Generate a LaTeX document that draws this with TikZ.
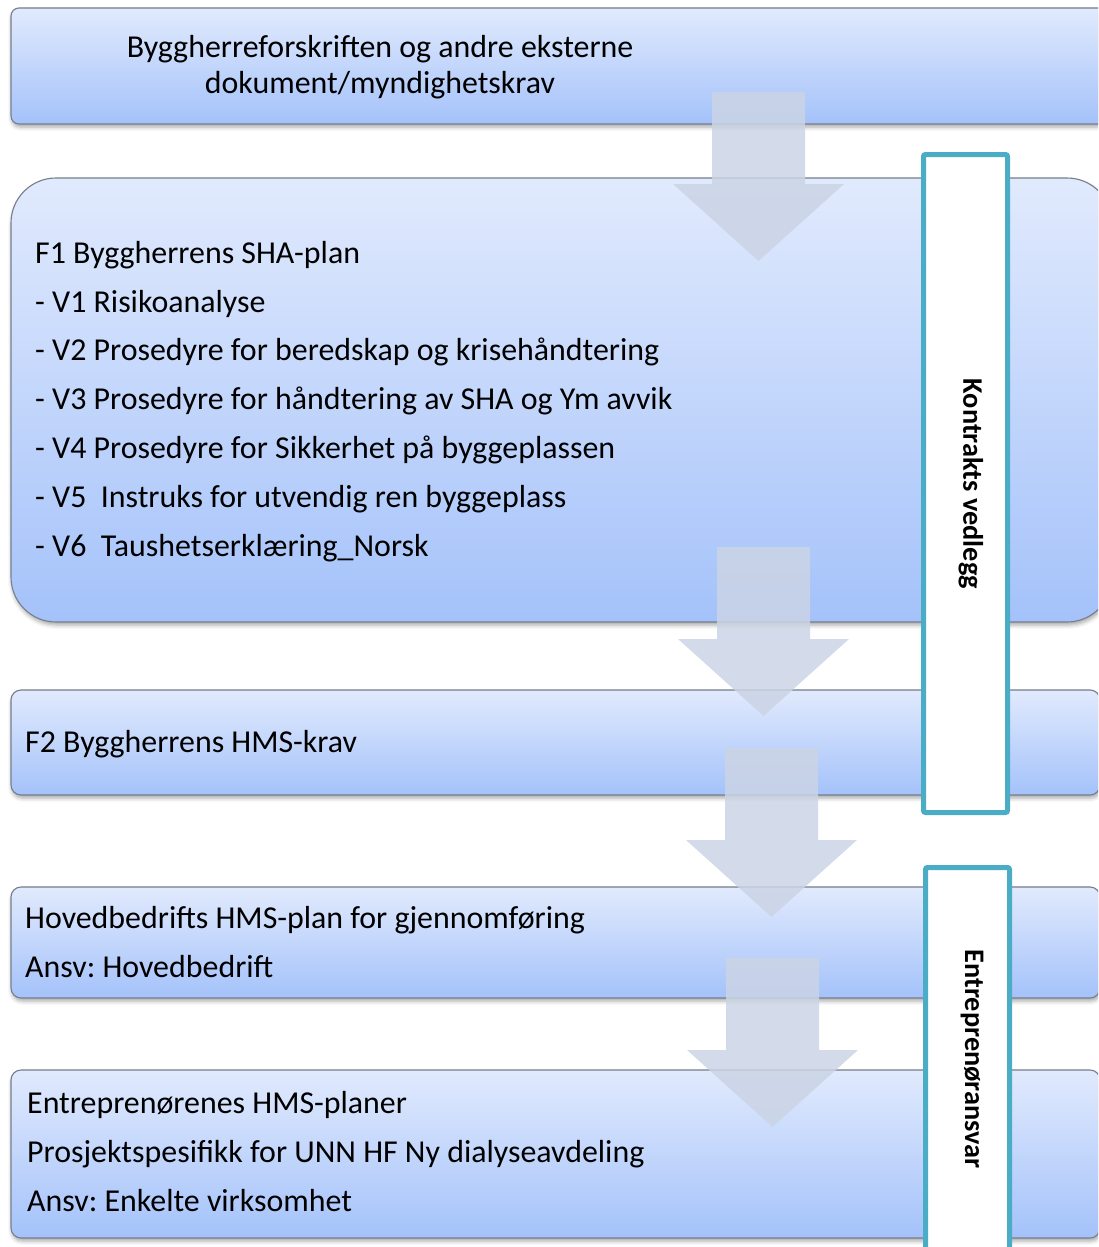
\documentclass[tikz,border=0pt]{standalone}
\usepackage{fontspec}
\setmainfont{Carlito}
\usetikzlibrary{shadows.blur}
\frenchspacing
\definecolor{boxtop}{RGB}{225,234,253}
\definecolor{boxbot}{RGB}{164,194,250}
\definecolor{boxline}{RGB}{118,126,140}
\definecolor{arrowfill}{RGB}{203,212,229}
\definecolor{tealline}{RGB}{75,172,198}
\tikzset{
  flowbox/.style={draw=boxline, line width=1.1pt, top color=boxtop, bottom color=boxbot,
    blur shadow={shadow xshift=1pt, shadow yshift=-3pt, shadow blur radius=4pt, shadow opacity=35}},
  txt/.style={anchor=base west, inner sep=0pt, font=\fontsize{31.9}{49}\selectfont},
  sidebox/.style={draw=tealline, fill=white, line width=5pt, rounded corners=2pt},
  sidetxt/.style={rotate=-90, inner sep=0pt, font=\fontsize{28.3}{32}\selectfont\bfseries},
  blockarrow/.pic={\fill[arrowfill, fill opacity=0.85] (-46.5,0) -- (46.5,0) -- (46.5,92) -- (85.5,92) -- (0,169) -- (-85.5,92) -- (-46.5,92) -- cycle;}
}
\begin{document}
\begin{tikzpicture}[x=1pt,y=-1pt]
\useasboundingbox (0,0) rectangle (1098,1247);
\clip (0,0) rectangle (1098,1247);
% boxes
\path[flowbox, rounded corners=8pt] (11,8) rectangle (1108,124);
\path[flowbox, rounded corners=45pt] (11,178) rectangle (1112,622);
\path[flowbox, rounded corners=10pt] (11,690) rectangle (1100,795);
\path[flowbox, rounded corners=10pt] (11,887) rectangle (1100,998);
\path[flowbox, rounded corners=10pt] (11,1070) rectangle (1100,1238);
% texts
\node[anchor=base, inner sep=0pt, font=\fontsize{31.9}{36}\selectfont] (t1a) at (380,57) {Byggherreforskriften og andre eksterne};
\node[anchor=base, inner sep=0pt, font=\fontsize{31.9}{36}\selectfont] (t1b) at (380,93) {dokument/myndighetskrav};
\node[txt] (t2a) at (35,263) {F1 Byggherrens SHA-plan};
\node[txt] (t2b) at (35,312) {- V1 Risikoanalyse};
\node[txt] (t2c) at (35,360) {- V2 Prosedyre for beredskap og krisehåndtering};
\node[txt] (t2d) at (35,409) {- V3 Prosedyre for håndtering av SHA og Ym avvik};
\node[txt] (t2e) at (35,458) {- V4 Prosedyre for Sikkerhet på byggeplassen};
\node[txt] (t2f) at (35,507) {- V5\ \ Instruks for utvendig ren byggeplass};
\node[txt] (t2g) at (35,556) {- V6\ \ Taushetserklæring\_Norsk};
\node[txt] (t3a) at (25,752) {F2 Byggherrens HMS-krav};
\node[txt] (t4a) at (25,928) {Hovedbedrifts HMS-plan for gjennomføring};
\node[txt] (t4b) at (25,977) {Ansv: Hovedbedrift};
\node[txt] (t5a) at (27,1113) {Entreprenørenes HMS-planer};
\node[txt] (t5b) at (27,1162) {Prosjektspesifikk for UNN HF Ny dialyseavdeling};
\node[txt] (t5c) at (27,1211) {Ansv: Enkelte virksomhet};
% side boxes
\path[sidebox] (923.5,154.5) rectangle (1007.5,812.5);
\node[sidetxt] (s1) at (971,484) {Kontrakts vedlegg};
\path[sidebox] (925.5,867.5) rectangle (1009.5,1270);
\node[sidetxt] (s2) at (972,1059) {Entreprenøransvar};
% block arrows
\pic at (758.5,92) {blockarrow};
\pic at (763.5,547) {blockarrow};
\pic at (771.5,748) {blockarrow};
\pic at (772.5,958) {blockarrow};
\end{tikzpicture}
\end{document}
